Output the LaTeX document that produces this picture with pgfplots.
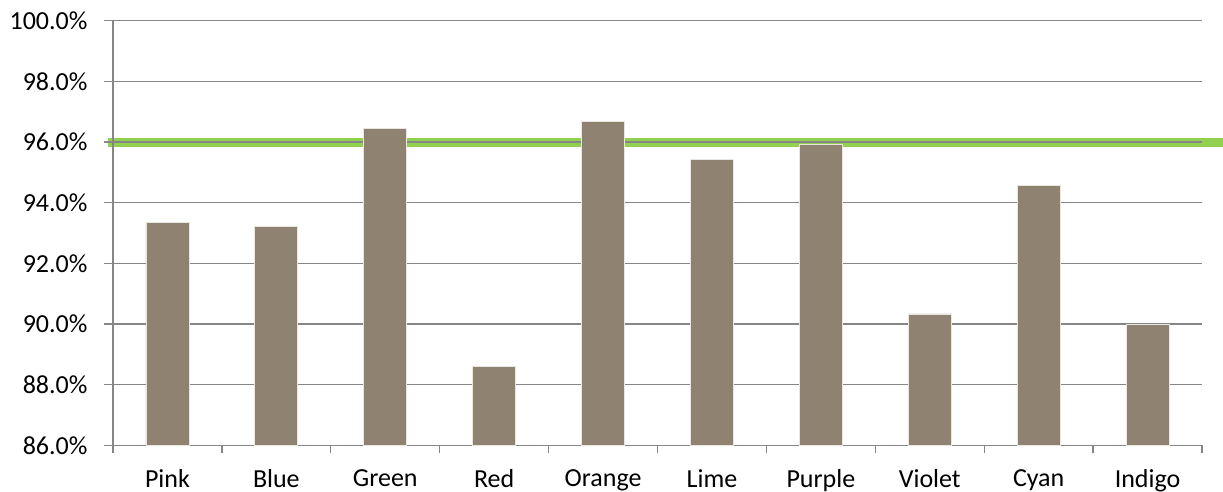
\documentclass[border=0pt]{standalone}
\usepackage{fontspec}
\setmainfont{Carlito}
\usepackage{pgfplots}
\pgfplotsset{compat=1.18}
\definecolor{barc}{RGB}{143,130,112}
\definecolor{gridc}{RGB}{134,134,134}
\definecolor{target}{RGB}{146,208,80}
\begin{document}
\begin{tikzpicture}
\begin{axis}[at={(0,0)}, anchor=south west, scale only axis, width=1089pt, height=424.6pt,
  xmin=-0.5, xmax=9.5, ymin=86, ymax=100, axis lines=none, clip=false]
\addplot[target, line width=9pt] coordinates {(-0.546,96.0) (9.70,96.0)};
\end{axis}
\begin{axis}[at={(0,0)}, anchor=south west, scale only axis, width=1089pt, height=424.6pt,
  xmin=-0.5, xmax=9.5, ymin=86, ymax=100,
  ybar, bar width=43pt,
  axis x line=bottom, axis y line=left, axis line style={gridc, line width=1.3pt, -},
  ytick={86,88,...,100}, ymajorgrids, grid style={gridc, line width=1.3pt},
  xtick={0,...,9}, xticklabels={Pink,Blue,Green,Red,Orange,Lime,Purple,Violet,Cyan,Indigo},
  minor xtick={-0.5,0.5,...,9.5},
  tick align=outside, major tick length=9pt, minor tick length=8pt,
  major x tick style={draw=none}, minor x tick style={gridc, line width=1.3pt},
  ytick style={gridc, line width=1.3pt},
  yticklabel={\pgfmathprintnumber[fixed,fixed zerofill,precision=1]{\tick}\%},
  /pgf/number format/assume math mode=true,
  tick label style={font=\fontsize{26}{30}\selectfont},
  yticklabel style={xshift=-13pt},
  xticklabel style={yshift=-12pt},
]
\addplot[fill=barc, draw=white!80!barc, line width=0.8pt] coordinates {
(0,93.34) (1,93.22) (2,96.46) (3,88.61) (4,96.67) (5,95.42) (6,95.92) (7,90.33) (8,94.58) (9,90.0)};
\end{axis}
\pgfresetboundingbox
\path[use as bounding box] (-113pt,-45.7pt) rectangle (1110pt,445.3pt);
\end{tikzpicture}
\end{document}
